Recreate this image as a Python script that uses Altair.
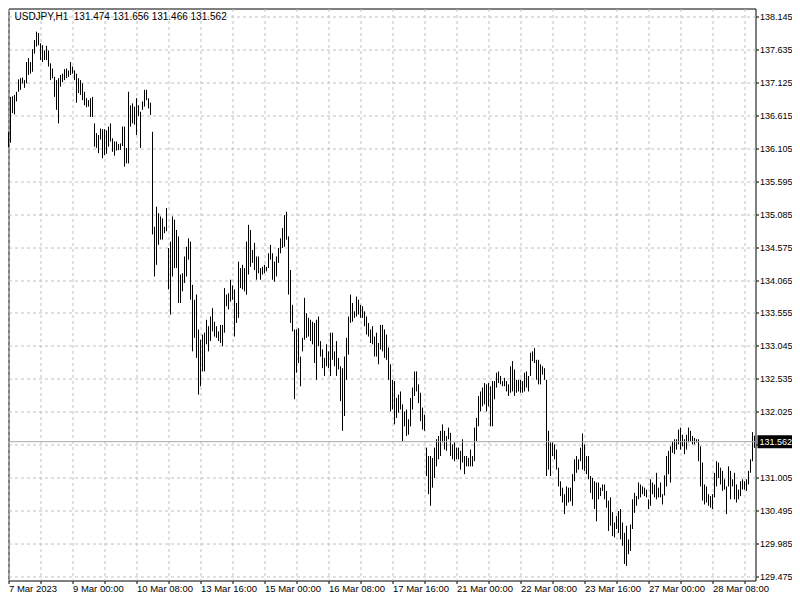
import altair as alt
import pandas as pd

# ---- data (USDJPY H1, one bar per hour, oldest first) ----
highs = [
    136.36, 136.90, 136.91, 136.93, 136.98, 137.17, 137.19, 137.20, 137.16, 137.44,
    137.50, 137.44, 137.64, 137.78, 137.91, 137.89, 137.73, 137.70, 137.62, 137.69,
    137.62, 137.42, 137.34, 137.21, 137.16, 137.19, 137.24, 137.26, 137.33, 137.34,
    137.31, 137.44, 137.37, 137.31, 137.26, 137.19, 137.16, 137.11, 136.98, 136.88,
    136.85, 136.88, 136.90, 136.49, 136.34, 136.31, 136.41, 136.40, 136.40, 136.38,
    136.44, 136.49, 136.26, 136.21, 136.21, 136.17, 136.18, 136.44, 136.44, 136.11,
    136.98, 136.77, 136.80, 136.75, 136.88, 136.77, 136.67, 136.83, 137.01, 137.01,
    136.88, 136.81, 136.36, 134.89, 135.20, 135.10, 135.05, 135.02, 134.89, 135.18,
    134.56, 134.66, 135.05, 135.00, 134.84, 134.74, 134.15, 134.17, 134.43, 134.58,
    134.71, 134.66, 133.99, 133.76, 133.84, 133.30, 133.14, 133.22, 133.25, 133.45,
    133.35, 133.50, 133.63, 133.42, 133.35, 133.27, 133.37, 133.37, 133.94, 133.84,
    133.86, 134.07, 133.98, 133.92, 133.71, 134.35, 134.25, 134.30, 134.25, 134.66,
    134.92, 134.84, 134.53, 134.64, 134.43, 134.43, 134.25, 134.27, 134.30, 134.27,
    134.48, 134.61, 134.48, 134.35, 134.43, 134.56, 134.71, 134.87, 135.07, 135.12,
    134.74, 134.22, 133.68, 133.30, 133.30, 133.32, 132.88, 133.17, 133.79, 133.55,
    133.48, 133.45, 133.42, 133.40, 133.45, 133.50, 133.12, 132.99, 132.86, 133.07,
    132.96, 133.25, 133.25, 132.96, 133.12, 132.86, 132.73, 132.70, 132.88, 133.17,
    133.50, 133.84, 133.71, 133.58, 133.81, 133.76, 133.68, 133.66, 133.58, 133.50,
    133.40, 133.30, 133.35, 133.19, 133.25, 133.09, 133.37, 133.37, 133.30, 133.22,
    133.02, 132.76, 132.52, 132.50, 132.24, 132.29, 132.34, 132.14, 132.03, 132.06,
    131.91, 132.24, 132.40, 132.65, 132.65, 132.45, 132.32, 132.09, 131.98, 131.47,
    131.34, 131.34, 131.31, 131.47, 131.60, 131.65, 131.73, 131.83, 131.73, 131.65,
    131.78, 131.70, 131.52, 131.55, 131.47, 131.47, 131.42, 131.60, 131.34, 131.34,
    131.31, 131.44, 131.34, 131.78, 131.93, 132.27, 132.34, 132.40, 132.47, 132.45,
    132.47, 132.42, 132.50, 132.50, 132.63, 132.65, 132.58, 132.50, 132.55, 132.50,
    132.45, 132.73, 132.81, 132.68, 132.52, 132.52, 132.52, 132.50, 132.63, 132.65,
    132.58, 132.94, 132.96, 133.01, 132.83, 132.83, 132.76, 132.73, 132.70, 132.52,
    131.73, 131.55, 131.55, 131.52, 131.44, 131.16, 130.95, 130.85, 130.75, 130.87,
    130.85, 130.85, 131.06, 131.29, 131.34, 131.29, 131.47, 131.69, 131.52, 131.34,
    131.34, 131.03, 131.00, 130.95, 130.93, 130.93, 130.85, 130.90, 130.90, 130.80,
    130.65, 130.70, 130.47, 130.31, 130.41, 130.49, 130.52, 130.31, 130.15, 130.26,
    130.05, 130.28, 130.67, 130.77, 130.72, 130.93, 130.90, 130.87, 130.85, 130.82,
    130.67, 130.98, 130.93, 130.90, 131.08, 130.85, 130.93, 130.75, 131.04, 131.34,
    131.42, 131.49, 131.57, 131.60, 131.60, 131.75, 131.78, 131.67, 131.60, 131.67,
    131.78, 131.73, 131.65, 131.62, 131.60, 131.60, 131.49, 131.24, 130.90, 130.87,
    130.75, 130.72, 130.75, 131.08, 131.26, 131.24, 131.16, 131.11, 130.98, 130.87,
    131.18, 131.11, 130.98, 131.08, 130.90, 130.82, 130.95, 130.98, 130.95, 130.98,
    131.11, 131.29, 131.71, 131.656,
]

lows = [
    136.12, 136.19, 136.65, 136.63, 136.83, 136.98, 137.01, 137.11, 137.04, 137.11,
    137.24, 137.26, 137.29, 137.57, 137.68, 137.70, 137.47, 137.44, 137.47, 137.47,
    137.37, 137.16, 137.19, 136.90, 136.70, 136.49, 137.06, 137.13, 137.16, 137.19,
    137.21, 137.24, 137.26, 137.16, 136.81, 136.96, 136.93, 136.85, 136.77, 136.74,
    136.75, 136.59, 136.59, 136.13, 136.11, 136.03, 136.24, 135.95, 136.00, 136.02,
    136.13, 136.21, 136.05, 135.99, 136.07, 136.08, 136.08, 136.14, 135.82, 135.87,
    135.87, 136.44, 136.49, 136.47, 136.31, 136.60, 136.11, 136.70, 136.75, 136.85,
    136.72, 136.62, 134.77, 134.12, 134.30, 134.61, 134.69, 134.69, 134.79, 134.82,
    133.92, 133.53, 134.12, 134.25, 134.25, 133.71, 133.71, 133.89, 134.02, 134.12,
    134.38, 133.76, 132.96, 133.17, 132.86, 132.29, 132.42, 132.65, 132.65, 133.07,
    132.96, 133.12, 133.27, 133.19, 133.17, 133.12, 133.09, 133.04, 133.25, 133.66,
    133.61, 133.73, 133.76, 133.19, 133.40, 133.48, 133.94, 133.92, 133.89, 133.84,
    134.15, 134.27, 134.33, 134.22, 134.07, 134.17, 134.07, 134.15, 134.17, 134.20,
    134.25, 134.38, 134.07, 134.04, 134.12, 134.33, 134.48, 134.56, 134.58, 134.69,
    133.84, 133.40, 133.27, 132.22, 132.63, 132.78, 132.42, 132.96, 133.14, 133.17,
    133.19, 133.12, 133.07, 132.78, 132.52, 133.04, 132.88, 132.70, 132.58, 132.73,
    132.70, 132.58, 132.83, 132.73, 132.58, 132.68, 132.19, 131.73, 131.96, 132.52,
    132.91, 133.40, 133.42, 133.48, 133.50, 133.53, 133.48, 133.48, 133.35, 133.22,
    133.19, 133.09, 133.07, 132.88, 132.88, 132.76, 132.99, 132.96, 132.86, 132.83,
    132.52, 132.03, 132.06, 131.83, 131.93, 132.01, 132.06, 131.57, 131.80, 131.65,
    131.67, 131.80, 132.06, 132.27, 132.34, 132.16, 131.88, 131.75, 131.73, 131.03,
    130.75, 130.57, 130.85, 131.00, 131.18, 131.29, 131.34, 131.55, 131.44, 131.42,
    131.60, 131.34, 131.29, 131.26, 131.29, 131.29, 131.13, 131.24, 131.06, 131.18,
    131.18, 131.18, 131.18, 131.26, 131.57, 131.80, 132.03, 132.11, 132.14, 132.03,
    132.11, 131.80, 131.80, 132.22, 132.40, 132.47, 132.45, 132.42, 132.42, 132.34,
    132.27, 132.32, 132.34, 132.27, 132.32, 132.34, 132.32, 132.32, 132.34, 132.40,
    132.34, 132.58, 132.81, 132.78, 132.52, 132.45, 132.45, 132.60, 132.52, 131.03,
    131.13, 131.03, 131.34, 131.29, 131.13, 130.87, 130.72, 130.62, 130.44, 130.57,
    130.62, 130.64, 130.57, 130.95, 131.08, 131.13, 131.26, 131.13, 131.11, 131.06,
    130.98, 130.77, 130.67, 130.52, 130.33, 130.67, 130.72, 130.80, 130.67, 130.54,
    130.18, 130.26, 130.10, 130.08, 130.21, 130.15, 130.05, 129.95, 129.67, 129.64,
    129.82, 129.87, 130.21, 130.46, 130.57, 130.67, 130.70, 130.75, 130.72, 130.70,
    130.52, 130.57, 130.75, 130.70, 130.67, 130.70, 130.70, 130.59, 130.73, 130.87,
    131.06, 130.93, 131.39, 131.37, 131.44, 131.52, 131.44, 131.49, 131.37, 131.44,
    131.55, 131.57, 131.52, 131.52, 131.55, 131.26, 130.87, 130.65, 130.59, 130.62,
    130.57, 130.54, 130.52, 130.70, 130.87, 131.00, 130.90, 130.80, 130.82, 130.44,
    130.87, 130.67, 130.87, 130.67, 130.62, 130.67, 130.72, 130.82, 130.82, 130.80,
    130.90, 131.08, 131.26, 131.466,
]

price_ticks = [129.475, 129.985, 130.495, 131.005, 131.515, 132.025, 132.535,
               133.045, 133.555, 134.065, 134.575, 135.085, 135.595, 136.105,
               136.615, 137.125, 137.635, 138.145]

# one label every 32 bars, starting at the first bar
time_labels = ["7 Mar 2023", "9 Mar 00:00", "10 Mar 08:00", "13 Mar 16:00",
               "15 Mar 00:00", "16 Mar 08:00", "17 Mar 16:00", "21 Mar 00:00",
               "22 Mar 08:00", "23 Mar 16:00", "27 Mar 00:00", "28 Mar 08:00"]

last_price = 131.562
header_text = "USDJPY,H1\u00a0\u00a0131.474 131.656 131.466 131.562"

# ---- layout (total svg width kept at 784 px so the browser does not rescale it) ----
W, H = 747, 572
PAD_L, PAD_T, PAD_R, PAD_B = 0.5, 0.5, 36.5, 18
FONT = "Liberation Sans"
n = len(highs)

bars = pd.DataFrame({"i": list(range(n)), "high": highs, "low": lows})
last_df = pd.DataFrame({"p": [last_price], "label": [f"{last_price:.3f}"]})
head_df = pd.DataFrame({"t": [header_text]})

xscale = alt.Scale(domain=[0, W / 2], nice=False, zero=False)
yscale = alt.Scale(domain=[129.413, 138.269], nice=False, zero=False)

label_arr = "[" + ",".join("'" + s + "'" for s in time_labels) + "]"
x_label_expr = f"datum.value % 32 == 0 ? {label_arr}[datum.value / 32] : ''"
y_label_expr = f"abs(datum.value - {last_price}) < 0.2 ? '' : format(datum.value, '.3f')"

x_axis = alt.Axis(
    values=list(range(0, n, 16)), labelExpr=x_label_expr, orient="bottom",
    grid=True, gridColor="#c0c0c0", gridDash=[3, 3], gridWidth=1,
    domain=False, ticks=True, tickSize=3, tickColor="black",
    labelAlign="left", labelBaseline="top", labelPadding=0,
    labelFont=FONT, labelFontSize=9.5, labelColor="black",
    labelFlush=False, labelOverlap=False, labelBound=False, title=None,
)
y_axis = alt.Axis(
    values=price_ticks, labelExpr=y_label_expr, orient="right",
    grid=True, gridColor="#c0c0c0", gridDash=[3, 3], gridWidth=1,
    domain=False, ticks=True, tickSize=3, tickColor="black",
    labelAlign="left", labelBaseline="middle", labelPadding=1,
    labelFont=FONT, labelFontSize=9, labelColor="black",
    labelFlush=False, labelOverlap=False, labelBound=False, title=None,
)

Y_low = alt.Y("low:Q", scale=yscale, axis=y_axis)
Y_p = alt.Y("p:Q", scale=yscale, axis=y_axis)

bar_layer = alt.Chart(bars).mark_rule(color="black", strokeWidth=1).encode(
    x=alt.X("i:Q", scale=xscale, axis=x_axis),
    y=Y_low,
    y2="high:Q",
)

price_line = alt.Chart(last_df).mark_rule(color="#a8a8a8", strokeWidth=1).encode(y=Y_p)

price_box = alt.Chart(last_df).mark_rule(color="black", strokeWidth=13).encode(
    y=Y_p, x=alt.value(W + 2), x2=alt.value(W + PAD_R),
)

price_text = alt.Chart(last_df).mark_text(
    color="white", font=FONT, fontSize=9, align="left", baseline="middle"
).encode(y=Y_p, x=alt.value(W + 4), text="label:N")

header = alt.Chart(head_df).mark_text(
    color="black", font=FONT, fontSize=10, align="left", baseline="top"
).encode(x=alt.value(6), y=alt.value(3), text="t:N")

chart = alt.layer(bar_layer, price_line, price_box, price_text, header).properties(
    width=W, height=H,
    autosize=alt.AutoSizeParams(type="none"),
    padding={"left": PAD_L, "top": PAD_T, "right": PAD_R, "bottom": PAD_B},
    background="white",
).configure_view(stroke="black", strokeWidth=1)

chart.save("out.html", embed_options={"renderer": "svg", "actions": False})
